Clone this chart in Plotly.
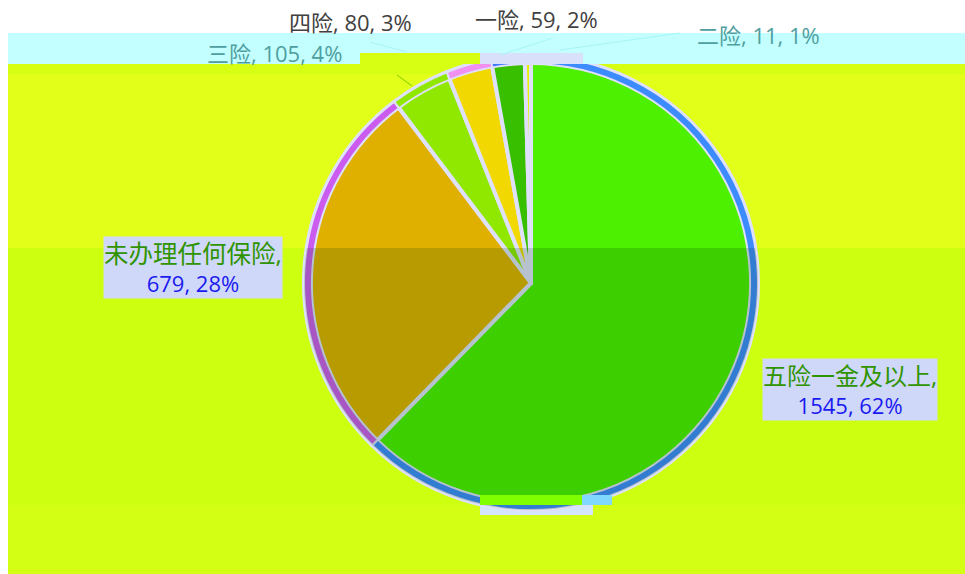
import numpy as np
import plotly.graph_objects as go

categories = ["五险一金及以上", "未办理任何保险", "三险", "四险", "一险", "二险"]
values = [1545, 679, 105, 80, 59, 11]
percents = [62, 28, 4, 3, 2, 1]
slice_colors = ["#4cf000", "#e0b000", "#90e800", "#f0d800", "#38c000", "#e4f000"]
ring_colors = ["#3d8cff", "#cc5cf0", "#90e800", "#f090f0", "#3d78ff", "#dfe0fa"]

W, H = 965, 574
CX, CY, R = 531, 283, 227


def px(x):
    return x / W


def py(y):
    return 1 - y / H


def rect(x0, y0, x1, y1, color, layer="below"):
    return dict(type="rect", xref="paper", yref="paper", x0=px(x0), x1=px(x1), y0=py(y1), y1=py(y0),
                fillcolor=color, line_width=0, layer=layer)


def leader(x0, y0, x1, y1, color):
    return dict(type="line", xref="paper", yref="paper", x0=px(x0), x1=px(x1), y0=py(y0), y1=py(y1),
                line=dict(color=color, width=1), layer="above")


# darker lower part of the disc, below the horizontal break at y=248
a0 = np.arcsin((248 - CY) / R)
angles = np.linspace(a0, np.pi - a0, 80)
pts = [(px(CX + R * np.cos(a)), py(CY + R * np.sin(a))) for a in angles]
lower_path = "M " + " L ".join(f"{x:.5f},{y:.5f}" for x, y in pts) + " Z"

shapes = [
    rect(8, 64, W, 74, "#d6ff14"),
    rect(8, 74, W, 248, "#e2ff1a"),
    rect(8, 248, W, 505, "#ccff10"),
    rect(8, 505, W, H, "#d2ff14"),
    rect(480, 505, 593, 515, "#d4e6ff"),
    dict(type="path", xref="paper", yref="paper", path=lower_path,
         fillcolor="rgba(0,60,0,0.18)", line_width=0, layer="above"),
    rect(8, 33, W, 53, "#c3ffff", "above"),
    rect(8, 53, 360, 64, "#c3ffff", "above"),
    rect(360, 53, 480, 64, "#d6ff14", "above"),
    rect(480, 53, 583, 64, "#d8e0fa", "above"),
    rect(583, 53, W, 64, "#c3ffff", "above"),
    rect(480, 495, 582, 505, "#80ff00", "above"),
    rect(582, 495, 612, 505, "#80d8ff", "above"),
    leader(370, 42, 407, 52, "#a8f4f4"),
    leader(500, 55, 553, 38, "#a8f4f4"),
    leader(560, 50, 680, 33, "#a8f4f4"),
    leader(397, 75, 412, 86, "#7ccc00"),
]

fig = go.Figure()
fig.add_trace(go.Pie(
    labels=categories, values=values, sort=False, direction="clockwise", rotation=0,
    marker=dict(colors=slice_colors, line=dict(color="#dfe0fa", width=4)),
    textinfo="none", showlegend=False, hoverinfo="label+value+percent",
    domain=dict(x=[px(CX - R), px(CX + R)], y=[py(CY + R), py(CY - R)]),
))
fig.add_trace(go.Pie(
    labels=categories, values=values, sort=False, direction="clockwise", rotation=0, hole=0.965,
    marker=dict(colors=ring_colors, line=dict(color="#dfe0fa", width=2)),
    textinfo="none", showlegend=False, hoverinfo="skip",
    domain=dict(x=[px(CX - R), px(CX + R)], y=[py(CY + R), py(CY - R)]),
))

FONT = "Open Sans, Noto Sans CJK SC, sans-serif"
DARK, TEAL, GREEN, BLUE = "#404040", "#4f9ea0", "#2f9400", "#1a1af0"
LAV = "#d0d8fa"


def note(x, y, text, color, bg=None, size=22):
    fig.add_annotation(x=px(x), y=py(y), xref="paper", yref="paper", text=text, showarrow=False,
                       font=dict(family=FONT, size=size, color=color), xanchor="center", yanchor="middle",
                       bgcolor=bg, borderpad=0)


def line_label(i):
    return f"{categories[i]}, {values[i]}, {percents[i]}%"


def two_line_label(i, cjk_size):
    return (f"<span style='color:{GREEN};font-size:{cjk_size}px'>{categories[i]},</span><br>"
            f"<span style='color:{BLUE}'>{values[i]}, {percents[i]}%</span>")


note(350, 22, line_label(3), DARK)
note(536, 19, line_label(4), DARK)
note(758, 35, line_label(5), TEAL)
note(274, 53, line_label(2), TEAL)
note(193, 268, two_line_label(1, 24.5), BLUE, LAV)
note(850, 389, two_line_label(0, 24), BLUE, LAV)

fig.update_layout(width=W, height=H, margin=dict(l=0, r=0, t=0, b=0), paper_bgcolor="#ffffff",
                  showlegend=False, shapes=shapes)
fig.write_html("out.html", config={"displayModeBar": False},
               post_script="document.body.style.margin='0';document.documentElement.style.overflow='hidden';")
